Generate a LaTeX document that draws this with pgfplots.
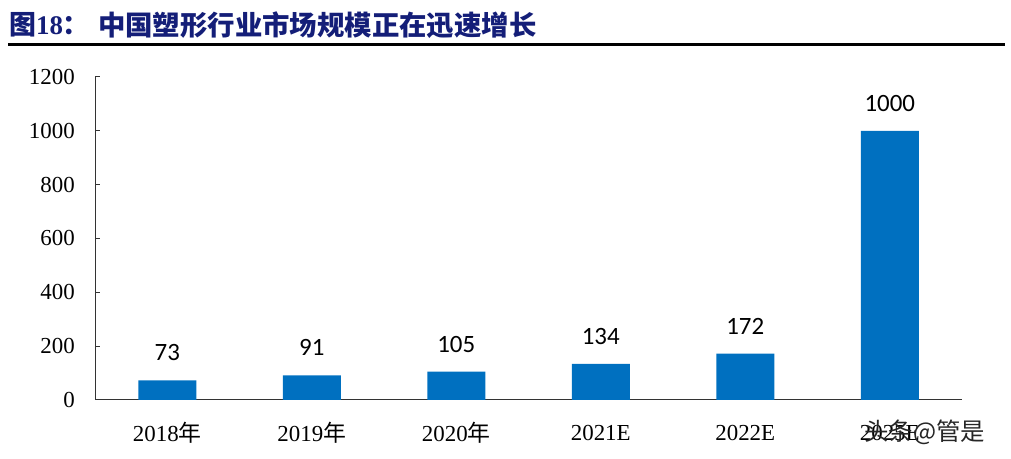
\documentclass[border=0pt]{standalone}
\usepackage{pgfplots}
\pgfplotsset{compat=1.18}
\usepackage{fontspec}
\setmainfont{Liberation Serif}
\newfontfamily\cjk{Noto Sans CJK SC}
\newfontfamily\carlito{Carlito}
\definecolor{barblue}{RGB}{0,112,192}
\definecolor{titleblue}{RGB}{20,30,120}
\begin{document}
\begin{tikzpicture}[x=1bp,y=1bp]
\useasboundingbox (0,0) rectangle (1011,459);
% title
\node[anchor=west,inner sep=0,text=titleblue,font=\bfseries\fontsize{27}{32}\selectfont] at (9,434) {{\cjk 图}18{\cjk ：}};
\node[anchor=west,inner sep=0,text=titleblue,font=\fontsize{27.5}{32}\selectfont] at (98,434) {\cjk\bfseries 中国塑形行业市场规模正在迅速增长};
\draw[line width=3bp,black] (8,414) -- (1005,414);
\begin{axis}[
  at={(95bp,59bp)}, anchor=south west,
  scale only axis, width=867bp, height=323bp,
  xmin=-0.5, xmax=5.5, ymin=0, ymax=1200,
  axis x line=bottom, axis y line=left,
  axis line style={black!80, line width=1bp, -},
  ytick={0,200,...,1200},
  xtick={0,...,5},
  xticklabels={2018{\cjk 年},2019{\cjk 年},2020{\cjk 年},2021E,2022E,2025E},
  minor xtick={0.5,1.5,2.5,3.5,4.5},
  tick align=inside,
  major tick length=5bp, minor tick length=6bp,
  xtick style={draw=none},
  minor x tick style={black!80, line width=1bp},
  ytick style={black!80, line width=1bp},
  tick label style={font=\fontsize{23}{26}\selectfont},
  /pgf/number format/assume math mode=true,
  /pgf/number format/1000 sep={},
  yticklabel style={anchor=east, inner sep=0pt, xshift=-20bp},
  xticklabel style={anchor=center, inner sep=0pt, yshift=-28bp},
  ybar, bar width=58bp,
  nodes near coords,
  every node near coord/.append style={font=\carlito\fontsize{25}{30}\selectfont, black, yshift=16bp},
  clip=false,
]
\addplot[fill=barblue, draw=none] coordinates {(0,73) (1,91) (2,105) (3,134) (4,172) (5,1000)};
\end{axis}
\node[anchor=west,inner sep=0,font=\cjk\fontsize{24.5}{28}\selectfont,text=black!85] at (864,27) {头条@管是};
\end{tikzpicture}
\end{document}
